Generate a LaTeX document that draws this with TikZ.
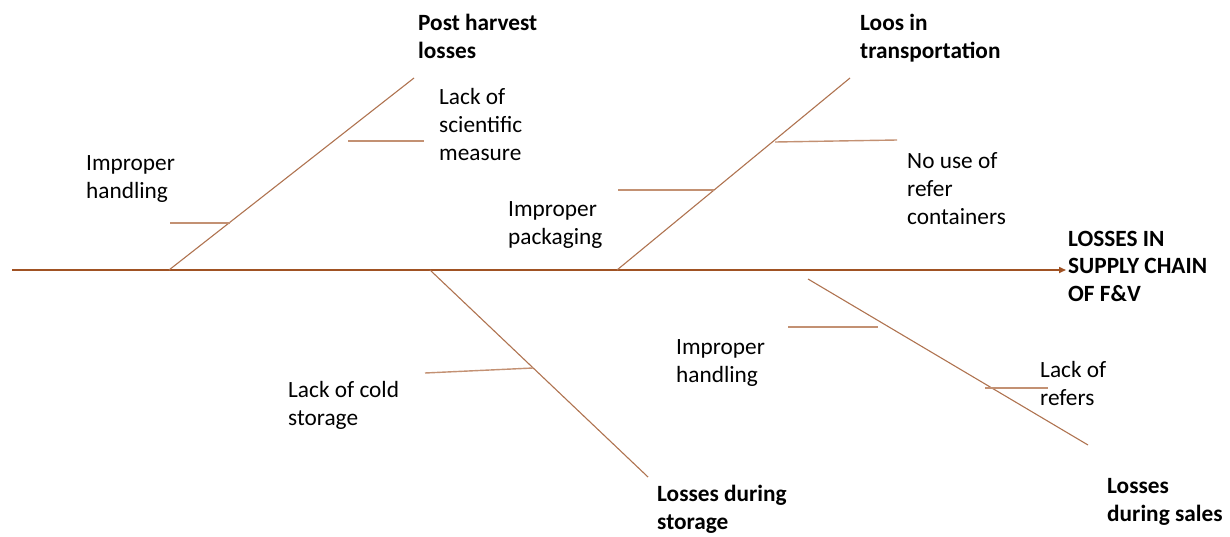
\documentclass[tikz,border=0pt]{standalone}
\usepackage{fontspec}
\setmainfont{Carlito}
\usetikzlibrary{arrows.meta}
\definecolor{spinecol}{RGB}{160,82,35}
\definecolor{bonecol}{RGB}{175,115,80}
\definecolor{subcol}{RGB}{195,145,115}
\tikzset{
  spine/.style={draw=spinecol, line width=1.6pt, -{Triangle[length=7pt,width=6pt]}},
  bone/.style={draw=bonecol, line width=1.1pt},
  subbone/.style={draw=subcol, line width=1.4pt},
  lbl/.style={anchor=base west, inner sep=0pt, align=left, font=\fontsize{23.3}{28}\selectfont},
  head/.style={lbl, font=\fontsize{23.3}{27.5}\selectfont\bfseries},
}
\begin{document}
\begin{tikzpicture}[x=1pt,y=-1pt]
\useasboundingbox (0,0) rectangle (1230,536);
% spine
\coordinate (s0) at (12,270);
\coordinate (s1) at (1066,270);
\draw[spine] (s0) -- (s1);
% bone ends
\coordinate (b1a) at (169,270); \coordinate (b1b) at (414,78);
\coordinate (b2a) at (617,270); \coordinate (b2b) at (850,78);
\coordinate (b3a) at (430,270); \coordinate (b3b) at (648,477);
\coordinate (b4a) at (808,279); \coordinate (b4b) at (1088,445);
\draw[bone] (b1a) -- (b1b);
\draw[bone] (b2a) -- (b2b);
\draw[bone] (b3a) -- (b3b);
\draw[bone] (b4a) -- (b4b);
% sub-bones
\coordinate (c1a) at (170,223); \coordinate (c1b) at (230,223);
\coordinate (c2a) at (348,141); \coordinate (c2b) at (424,141);
\coordinate (c3a) at (618,190); \coordinate (c3b) at (714,190);
\coordinate (c4a) at (775,142); \coordinate (c4b) at (897,140);
\coordinate (c5a) at (425,373); \coordinate (c5b) at (533,368);
\coordinate (c6a) at (788,327); \coordinate (c6b) at (878,327);
\coordinate (c7a) at (985,388); \coordinate (c7b) at (1048,388);
\foreach \i in {1,...,7} \draw[subbone] (c\i a) -- (c\i b);
% labels (anchored at baseline of last line)
\node[head] (h1) at (418,58) {Post harvest\\losses};
\node[head] (h2) at (860,58) {Loos in\\transportation};
\node[head] (h3) at (657,529) {Losses during\\storage};
\node[head] (h4) at (1107,521) {Losses\\during sales};
\node[head] (eff) at (1068,301) {LOSSES IN\\SUPPLY CHAIN\\OF F\&V};
\node[lbl] (t1) at (86,198) {Improper\\handling};
\node[lbl] (t2) at (439,160) {Lack of\\scientific\\measure};
\node[lbl] (t3) at (508,244) {Improper\\packaging};
\node[lbl] (t4) at (907,224) {No use of\\refer\\containers};
\node[lbl] (t5) at (288,425) {Lack of cold\\storage};
\node[lbl] (t6) at (676,382) {Improper\\handling};
\node[lbl] (t7) at (1040,405) {Lack of\\refers};
\end{tikzpicture}
\end{document}
